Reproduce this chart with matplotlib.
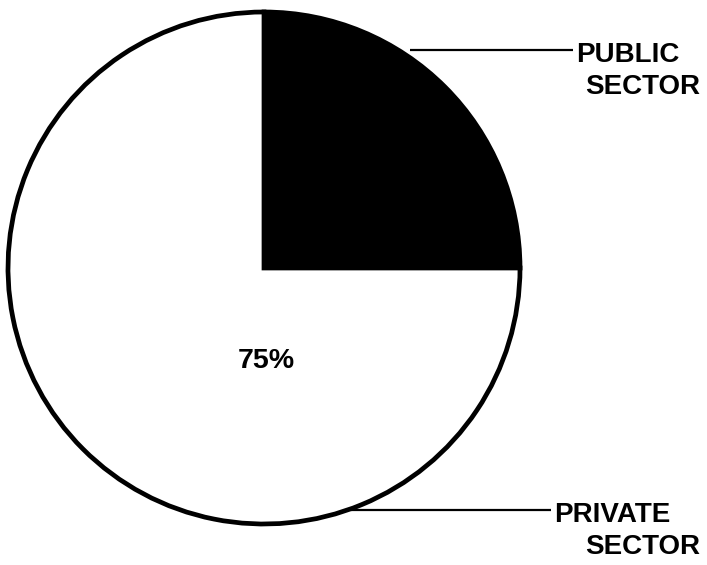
import numpy as np
import matplotlib
matplotlib.use("Agg")
import matplotlib.pyplot as plt

# shares of the pie (percent)
sectors = ["PUBLIC", "PRIVATE"]
shares = [25, 75]
colors = ["black", "white"]
center_label = "75%"

# pie geometry in pixel units
cx, cy, r = 264, 268, 256

fig = plt.figure(figsize=(7.07, 5.65), dpi=100)
ax = fig.add_axes([0, 0, 1, 1])
ax.set_xlim(0, 707)
ax.set_ylim(565, 0)
ax.set_aspect("equal")
ax.axis("off")

ax.pie(shares, colors=colors, startangle=0, counterclock=False,
       center=(cx, cy), radius=r,
       wedgeprops=dict(edgecolor="black", linewidth=3.4))
ax.set_xlim(0, 707)
ax.set_ylim(565, 0)

font = dict(family=["Liberation Sans", "DejaVu Sans"], fontweight="bold",
            fontsize=20, color="black")

ax.text(266, 361, center_label, ha="center", va="center",
        family=["Liberation Sans", "DejaVu Sans"], fontweight="bold",
        fontsize=20.5, color="black")

# labels: (line y, gap from circle, text left, baseline of line 1, baseline of line 2)
labels = [
    ("PUBLIC", 50, 12, 576, 62, 94),
    ("PRIVATE", 510, 4, 554, 522, 554),
]
for name, ly, gap, tx, b1, b2 in labels:
    x0 = cx + np.sqrt(r ** 2 - (ly - cy) ** 2) + gap
    ax.plot([x0, tx - 3], [ly, ly], color="black", lw=1.6,
            solid_capstyle="butt")
    ax.text(tx, b1, name, ha="left", va="baseline", **font)
    ax.text(643, b2, "SECTOR", ha="center", va="baseline", **font)

fig.savefig("out.png", dpi=100)
